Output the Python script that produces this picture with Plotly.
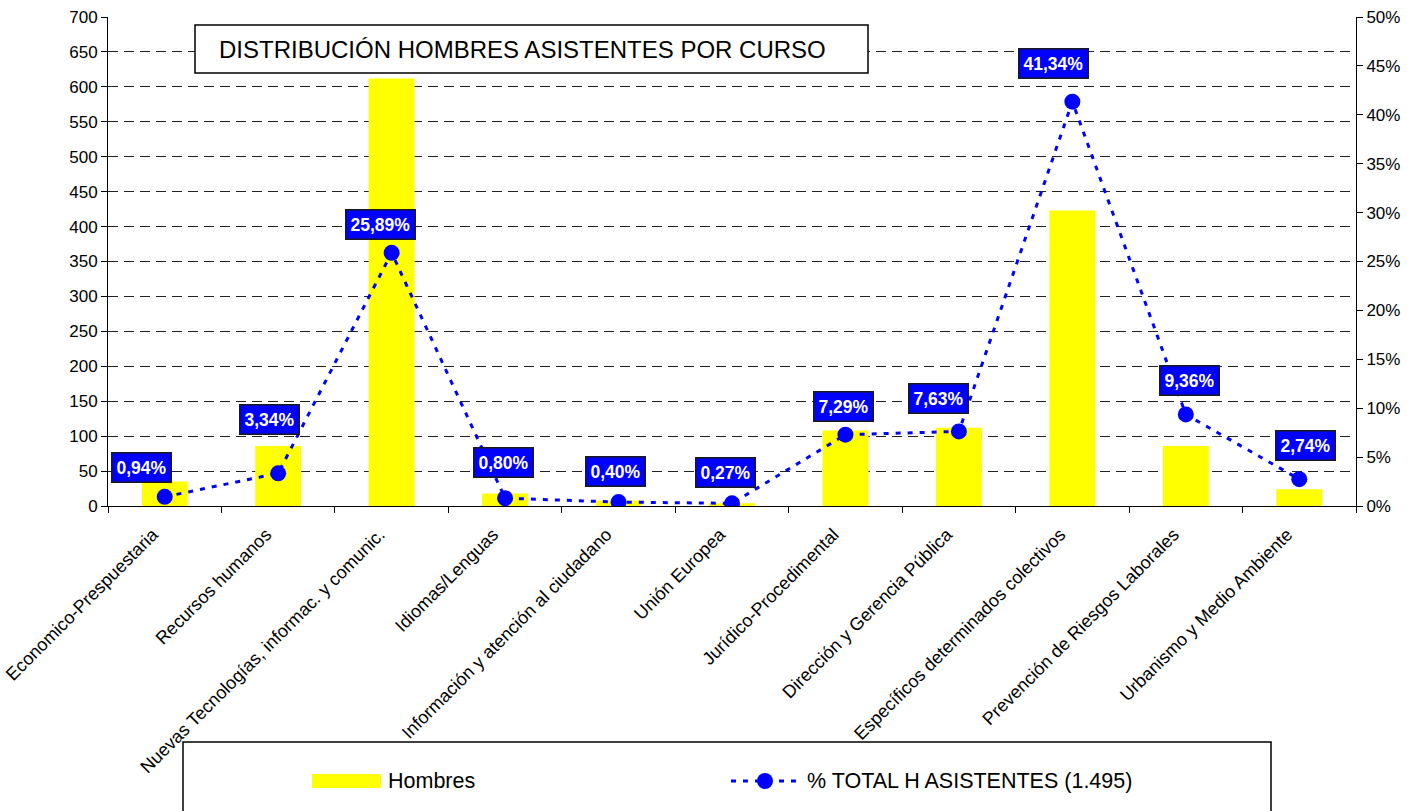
import plotly.graph_objects as go

# Course categories
categorias = [
    "Economico-Prespuestaria",
    "Recursos humanos",
    "Nuevas Tecnologías, informac. y comunic.",
    "Idiomas/Lenguas",
    "Información y atención al ciudadano",
    "Unión Europea",
    "Jurídico-Procedimental",
    "Dirección y Gerencia Pública",
    "Específicos determinados colectivos",
    "Prevención de Riesgos Laborales",
    "Urbanismo y Medio Ambiente",
]

# Male attendees per course (bars, left axis)
hombres = [35, 86, 612, 18, 8, 4, 108, 112, 423, 86, 24]

# Share of total male attendees, in percent (line, right axis)
pct_total = [0.94, 3.34, 25.89, 0.80, 0.40, 0.27, 7.29, 7.63, 41.34, 9.36, 2.74]

# Pixel offsets of each value box relative to its point
label_dx = [-23, -9, -11, -2, -3, -7, -2, -20, -19, 4, 6]
label_dy = [29, 54, 28, 36, 31, 31, 28, 33, 38, 34, 34]

FONT = "Arial, Liberation Sans, sans-serif"
W, H = 1421, 811
L, R, T, B = 108, 1356, 17, 506


def px(xp):
    return (xp - L) / (R - L)


def py(yp):
    return (B - yp) / (B - T)


fig = go.Figure()

fig.add_trace(go.Bar(
    x=categorias, y=hombres, name="Hombres",
    marker=dict(color="#FFFF00", line=dict(width=0)),
    width=0.405, yaxis="y", showlegend=False,
))

fig.add_trace(go.Scatter(
    x=categorias, y=pct_total, name="% TOTAL H ASISTENTES (1.495)",
    mode="lines+markers", yaxis="y2",
    line=dict(color="#0000FF", width=3, dash="5px,7px"),
    marker=dict(color="#0000FF", size=16),
    showlegend=False,
))

annotations = []
for cat, v, dx, dy in zip(categorias, pct_total, label_dx, label_dy):
    annotations.append(dict(
        x=cat, y=v, xref="x", yref="y2", xshift=dx, yshift=dy,
        text=f"{v:.2f}".replace(".", ",") + "%", showarrow=False,
        font=dict(family=FONT, size=17.5, color="white", weight="bold"),
        bgcolor="#0000FF", bordercolor="#1a1a1a", borderwidth=1.5, borderpad=4,
        xanchor="center", yanchor="middle",
    ))

# Title box
annotations.append(dict(
    x=px(217), y=py(49), xref="paper", yref="paper",
    text="DISTRIBUCIÓN HOMBRES ASISTENTES POR CURSO", showarrow=False,
    xanchor="left", yanchor="middle",
    font=dict(family=FONT, size=24, color="black"),
))

# Legend entries
annotations.append(dict(
    x=px(386), y=py(781), xref="paper", yref="paper", text="Hombres",
    showarrow=False, xanchor="left", yanchor="middle",
    font=dict(family=FONT, size=21.5, color="black"),
))
annotations.append(dict(
    x=px(805), y=py(781), xref="paper", yref="paper",
    text="% TOTAL H ASISTENTES (1.495)",
    showarrow=False, xanchor="left", yanchor="middle",
    font=dict(family=FONT, size=21.5, color="black"),
))

shapes = [
    dict(type="rect", xref="paper", yref="paper",
         x0=px(195), x1=px(868), y0=py(25), y1=py(73),
         fillcolor="white", line=dict(color="black", width=1.5), layer="above"),
    dict(type="rect", xref="paper", yref="paper",
         x0=px(183), x1=px(1271), y0=py(742), y1=py(840),
         fillcolor="white", line=dict(color="black", width=1.5), layer="below"),
    dict(type="rect", xref="paper", yref="paper",
         x0=px(312), x1=px(381), y0=py(774), y1=py(788),
         fillcolor="#FFFF00", line=dict(width=0)),
    dict(type="line", xref="paper", yref="paper",
         x0=px(731), x1=px(800), y0=py(781), y1=py(781),
         line=dict(color="#0000FF", width=3, dash="5px,7px")),
    dict(type="circle", xref="paper", yref="paper",
         x0=px(757), x1=px(773), y0=py(773), y1=py(789),
         fillcolor="#0000FF", line=dict(color="#0000FF", width=0)),
]

fig.update_layout(
    width=W, height=H, autosize=False,
    margin=dict(l=L, r=W - R, t=T, b=H - B, pad=0, autoexpand=False),
    paper_bgcolor="white", plot_bgcolor="white",
    font=dict(family=FONT, color="black", size=17),
    bargap=0.595,
    xaxis=dict(
        type="category", range=[-0.5, len(categorias) - 0.5],
        showline=True, linecolor="black", linewidth=1,
        ticks="outside", tickson="boundaries", ticklen=6, tickcolor="black",
        tickangle=-45, tickfont=dict(size=18, family=FONT, color="black"),
        ticklabelstandoff=10, ticklabelshift=-12,
        showgrid=False, zeroline=False, automargin=False,
    ),
    yaxis=dict(
        range=[0, 700], dtick=50, showline=True, linecolor="black", linewidth=1,
        ticks="outside", ticklen=6, tickcolor="black",
        showgrid=True, gridcolor="#222222", gridwidth=1, griddash="10px,6px",
        zeroline=False, tickfont=dict(size=17, family=FONT, color="black"),
        automargin=False,
    ),
    yaxis2=dict(
        range=[0, 50], dtick=5, ticksuffix="%", overlaying="y", side="right",
        anchor="x", showline=True, linecolor="black", linewidth=1,
        ticks="outside", ticklen=6, tickcolor="black", showgrid=False,
        zeroline=False, tickfont=dict(size=17, family=FONT, color="black"),
        automargin=False,
    ),
    annotations=annotations,
    shapes=shapes,
    showlegend=False,
)

fig.write_html("out.html")
